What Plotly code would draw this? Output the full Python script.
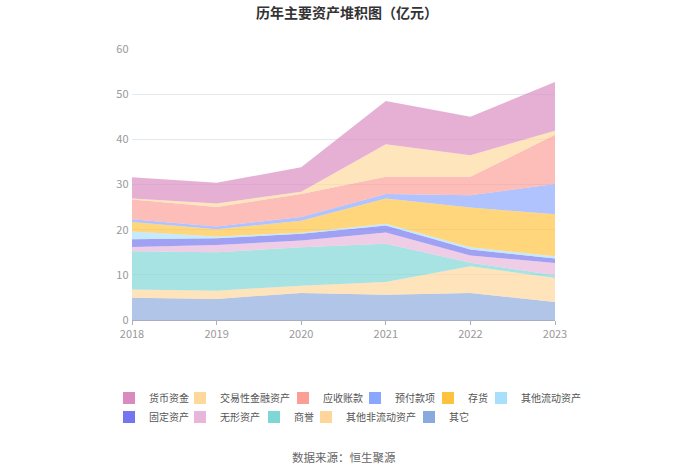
import plotly.graph_objects as go

YEARS = ["2018", "2019", "2020", "2021", "2022", "2023"]

# 各项资产（亿元），按图例顺序
SERIES_NAMES = [
    "货币资金", "交易性金融资产", "应收账款", "预付款项", "存货", "其他流动资产",
    "固定资产", "无形资产", "商誉", "其他非流动资产", "其它",
]
CASH = [4.7, 4.6, 5.4, 9.6, 8.5, 10.8]
TRADING_FIN = [0.2, 0.8, 0.5, 7.2, 4.8, 0.9]
RECEIVABLES = [4.4, 4.3, 5.1, 3.8, 4.1, 10.9]
PREPAYMENTS = [0.6, 0.6, 0.8, 1.0, 2.7, 6.7]
INVENTORY = [2.1, 1.6, 2.7, 5.6, 8.8, 9.3]
OTHER_CURRENT = [1.7, 0.4, 0.2, 0.4, 0.5, 0.5]
FIXED = [1.75, 1.5, 1.5, 1.5, 1.3, 1.0]
INTANGIBLE = [0.95, 1.6, 1.5, 2.5, 1.6, 2.7]
GOODWILL = [8.46, 8.5, 8.5, 8.5, 0.8, 0.6]
OTHER_NONCURRENT = [1.84, 1.83, 1.6, 2.8, 5.9, 5.3]
OTHERS = [4.9, 4.67, 6.0, 5.6, 6.0, 4.0]

SERIES_VALUES = [
    CASH, TRADING_FIN, RECEIVABLES, PREPAYMENTS, INVENTORY, OTHER_CURRENT,
    FIXED, INTANGIBLE, GOODWILL, OTHER_NONCURRENT, OTHERS,
]
COLORS = [
    "#d98bc0", "#ffd99b", "#fc9d96", "#8aa6ff", "#ffc23c", "#a8e0fb",
    "#7575ef", "#e8b6da", "#7fd6d6", "#ffd699", "#8aa9dc",
]

# legend entry placement (centre of the swatch, row centre), page pixels
LEGEND_POS = [
    (129, 398), (200, 398), (303, 398), (375, 398), (448, 398), (501, 398),
    (129, 417), (200, 417), (274, 417), (326, 417), (429, 417),
]

W, H = 700, 474


def rgba(hex_color: str, alpha: float) -> str:
    h = hex_color.lstrip("#")
    r, g, b = (int(h[i:i + 2], 16) for i in (0, 2, 4))
    return f"rgba({r},{g},{b},{alpha})"


def legend_key(i: int) -> str:
    return "legend" if i == 0 else f"legend{i + 1}"


fig = go.Figure()

# stack from the bottom: 其它 first
items = list(enumerate(zip(SERIES_NAMES, SERIES_VALUES, COLORS)))
for idx, (name, values, color) in reversed(items):
    fig.add_trace(
        go.Scatter(
            x=YEARS,
            y=values,
            name=name,
            mode="lines",
            stackgroup="assets",
            line=dict(width=0, color=color),
            fillcolor=rgba(color, 0.68),
            legendgroup=name,
            showlegend=False,
        )
    )

# legend entries: square swatches, one small legend each so the rows keep
# their natural spacing
for idx, (name, values, color) in items:
    fig.add_trace(
        go.Scatter(
            x=[None],
            y=[None],
            name=name,
            mode="markers",
            marker=dict(symbol="square", size=12, color=color, line=dict(width=0)),
            legendgroup=name,
            legend=legend_key(idx),
            hoverinfo="skip",
        )
    )

legends = {}
for i, (px, py) in enumerate(LEGEND_POS):
    legends[legend_key(i)] = dict(
        orientation="h",
        xref="container",
        yref="container",
        x=(px - 20) / W,
        y=1 - py / H,
        xanchor="left",
        yanchor="middle",
        itemwidth=30,
        font=dict(size=10, color="#555555"),
        bgcolor="rgba(0,0,0,0)",
        borderwidth=0,
    )

fig.update_layout(
    width=W,
    height=H,
    paper_bgcolor="white",
    plot_bgcolor="white",
    font=dict(family="Noto Sans CJK SC", color="#999999", size=11),
    title=dict(
        text="<b>历年主要资产堆积图（亿元）</b>",
        x=347 / W,
        xanchor="center",
        y=1 - 13 / H,
        yanchor="middle",
        font=dict(size=14, color="#333333"),
    ),
    margin=dict(l=132, r=145, t=49, b=154, autoexpand=False),
    showlegend=True,
    xaxis=dict(
        type="category",
        range=[0, 5],
        showgrid=False,
        showline=True,
        linecolor="#aab0bb",
        ticks="outside",
        ticklen=4,
        tickcolor="#aab0bb",
        tickfont=dict(size=11, color="#999999"),
    ),
    yaxis=dict(
        range=[0, 60],
        dtick=10,
        showgrid=True,
        gridcolor="#e6e8ef",
        zeroline=False,
        showline=False,
        tickfont=dict(size=11, color="#999999"),
        ticksuffix=" ",
    ),
    annotations=[
        dict(
            text="数据来源：恒生聚源",
            x=0.5,
            xref="paper",
            xanchor="center",
            y=-(457 - 320) / 271,
            yref="paper",
            yanchor="middle",
            showarrow=False,
            font=dict(size=11.5, color="#666666"),
        )
    ],
    **legends,
)

# the page's default body margin would shift the figure by 8px
fig.write_html(
    "out.html",
    config={"displayModeBar": False},
    post_script="document.body.style.margin = '0';",
)
